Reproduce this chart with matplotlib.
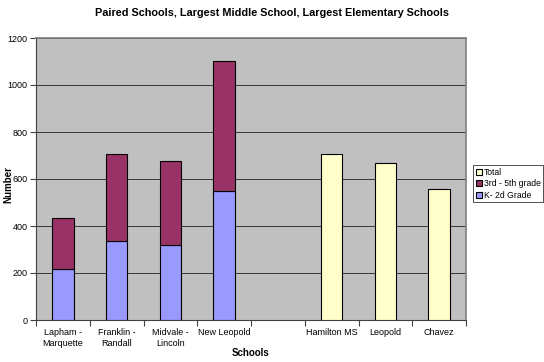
import matplotlib.pyplot as plt
import numpy as np

plt.rcParams['font.family'] = ['Liberation Sans', 'DejaVu Sans']

# Data
categories = ["Lapham -\nMarquette", "Franklin -\nRandall", "Midvale -\nLincoln",
              "New Leopold", "", "Hamilton MS", "Leopold", "Chavez"]
paired = ["Lapham -\nMarquette", "Franklin -\nRandall", "Midvale -\nLincoln", "New Leopold"]
k2_grade = [218, 335, 320, 547]
grade_3_5 = [217, 370, 357, 553]
single = ["Hamilton MS", "Leopold", "Chavez"]
total = [705, 667, 556]

fig = plt.figure(figsize=(5.44, 3.62), dpi=100)
ax = fig.add_axes([36 / 544, 42 / 362, 430 / 544, 282 / 362])
ax.set_facecolor("#C0C0C0")

pos = {c: i for i, c in enumerate(categories)}
x_paired = np.array([pos[c] for c in paired])
x_single = np.array([pos[c] for c in single])
w = 0.4

b1 = ax.bar(x_paired, k2_grade, w, color="#9999FF", edgecolor="black", linewidth=0.8, zorder=3)
b2 = ax.bar(x_paired, grade_3_5, w, bottom=k2_grade, color="#993366", edgecolor="black",
            linewidth=0.8, zorder=3)
b3 = ax.bar(x_single, total, w, color="#FFFFCC", edgecolor="black", linewidth=0.8, zorder=3)

ax.set_xlim(-0.5, len(categories) - 0.5)
ax.set_ylim(0, 1200)
ax.set_yticks(np.arange(0, 1201, 200))
ax.yaxis.grid(True, color="#202020", linewidth=0.6, zorder=1)
ax.set_axisbelow(True)

# category labels between tick marks
ax.set_xticks(np.arange(-0.5, len(categories), 1))
ax.set_xticklabels([])
ax.set_xticks(np.arange(len(categories)), minor=True)
ax.set_xticklabels(categories, minor=True, fontsize=6.5)
ax.tick_params(axis="x", which="minor", length=0, pad=6)
ax.tick_params(axis="x", which="major", length=4, color="#404040")
ax.tick_params(axis="y", labelsize=6.5, length=4, color="#404040", pad=2)

for side in ["top", "right"]:
    ax.spines[side].set_color("#808080")
    ax.spines[side].set_linewidth(1.2)
for side in ["left", "bottom"]:
    ax.spines[side].set_color("#404040")

fig.text(0.5, 0.965, "Paired Schools, Largest Middle School, Largest Elementary Schools",
         ha="center", va="center", fontsize=7.8, fontweight="bold")
fig.text(251 / 544, 1 - 353 / 362, "Schools", ha="center", va="center",
         fontsize=7, fontweight="bold")
fig.text(8 / 544, 1 - 185 / 362, "Number", ha="center", va="center", rotation=90,
         fontsize=7, fontweight="bold")

leg = fig.legend([b3, b2, b1], ["Total", "3rd - 5th grade", "K- 2d Grade"],
                 loc="upper left", bbox_to_anchor=(473 / 544, 1 - 165 / 362),
                 fontsize=6.2, frameon=True, fancybox=False, edgecolor="black",
                 handlelength=0.7, handleheight=0.7, handletextpad=0.25,
                 borderpad=0.3, labelspacing=0.3, borderaxespad=0)
leg.get_frame().set_linewidth(0.6)

fig.savefig("out.png", dpi=100)
